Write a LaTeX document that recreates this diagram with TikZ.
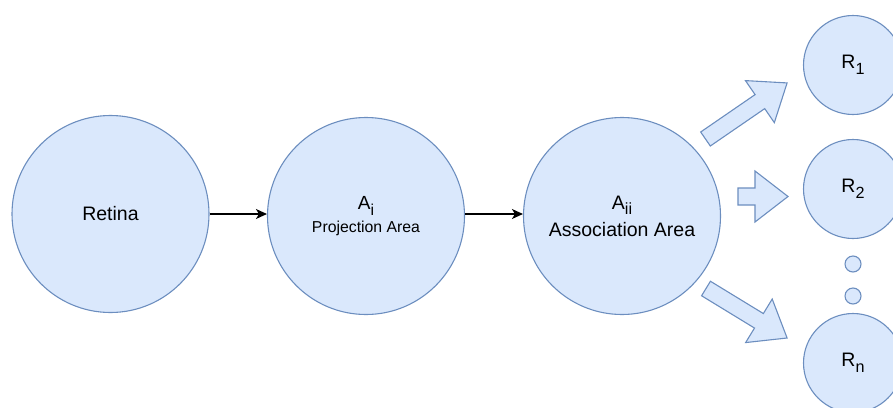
\documentclass[tikz,border=0pt]{standalone}
\usepackage{fontspec}
\setmainfont{Liberation Sans}
\usetikzlibrary{arrows.meta}
\definecolor{cfill}{HTML}{DAE8FC}
\definecolor{cline}{HTML}{6C8EBF}
\newcommand{\mysub}[1]{\raisebox{-0.3em}{\scalebox{0.83}{#1}}}
\newcommand{\blockarr}[4]{%
  \begin{scope}[shift={(#1,#2)},rotate=#3]
    \draw[blockarrow] (0,-8.5) -- ({#4-33},-8.5) -- ({#4-33},-25.5) -- (#4,0)
      -- ({#4-33},25.5) -- ({#4-33},8.5) -- (0,8.5) -- cycle;
  \end{scope}}
\begin{document}
\begin{tikzpicture}[x=1pt,y=-1pt,
  bigc/.style={circle,draw=cline,fill=cfill,line width=1.1pt,minimum size=197pt,inner sep=0pt,align=center},
  smallc/.style={circle,draw=cline,fill=cfill,line width=1.1pt,minimum size=99pt,inner sep=0pt},
  dotc/.style={circle,draw=cline,fill=cfill,line width=1.1pt,minimum size=16pt,inner sep=0pt},
  blockarrow/.style={draw=cline,fill=cfill,line width=1.1pt,line join=miter},
  conn/.style={line width=1.2pt,-{Stealth[length=11pt,width=10pt,inset=3pt]}},
  fbig/.style={font=\fontsize{19.5}{23}\selectfont}]
\useasboundingbox (0,0) rectangle (893,407);
\clip (0,0) rectangle (893,407);
\node[bigc,fbig] (ret) at (110.5,214) {Retina};
\node[bigc] (ai) at (366,216) {{\fontsize{19}{22}\selectfont A\mysub{i}}\\[5pt]{\fontsize{15.8}{19}\selectfont Projection Area}};
\node[bigc] (aii) at (622,216) {{\fontsize{19.5}{22}\selectfont A\mysub{ii}}\\[6pt]{\fontsize{19.5}{23}\selectfont Association Area}};
\node[smallc,fbig] (r1) at (853,65) {R\mysub{1}};
\node[smallc,fbig] (r2) at (853,189) {R\mysub{2}};
\node[smallc,fbig] (rn) at (853,363) {R\mysub{n}};
\node[dotc] (d1) at (853,264) {};
\node[dotc] (d2) at (853,296) {};
\draw[conn] (ret.east) -- (ai.west |- ret.east);
\draw[conn] (ai.east |- ret.east) -- (aii.west |- ret.east);
\blockarr{705.5}{139}{34.5}{99}
\blockarr{738}{196.5}{0}{50}
\blockarr{706}{288.5}{-31.4}{95}
\end{tikzpicture}
\end{document}
